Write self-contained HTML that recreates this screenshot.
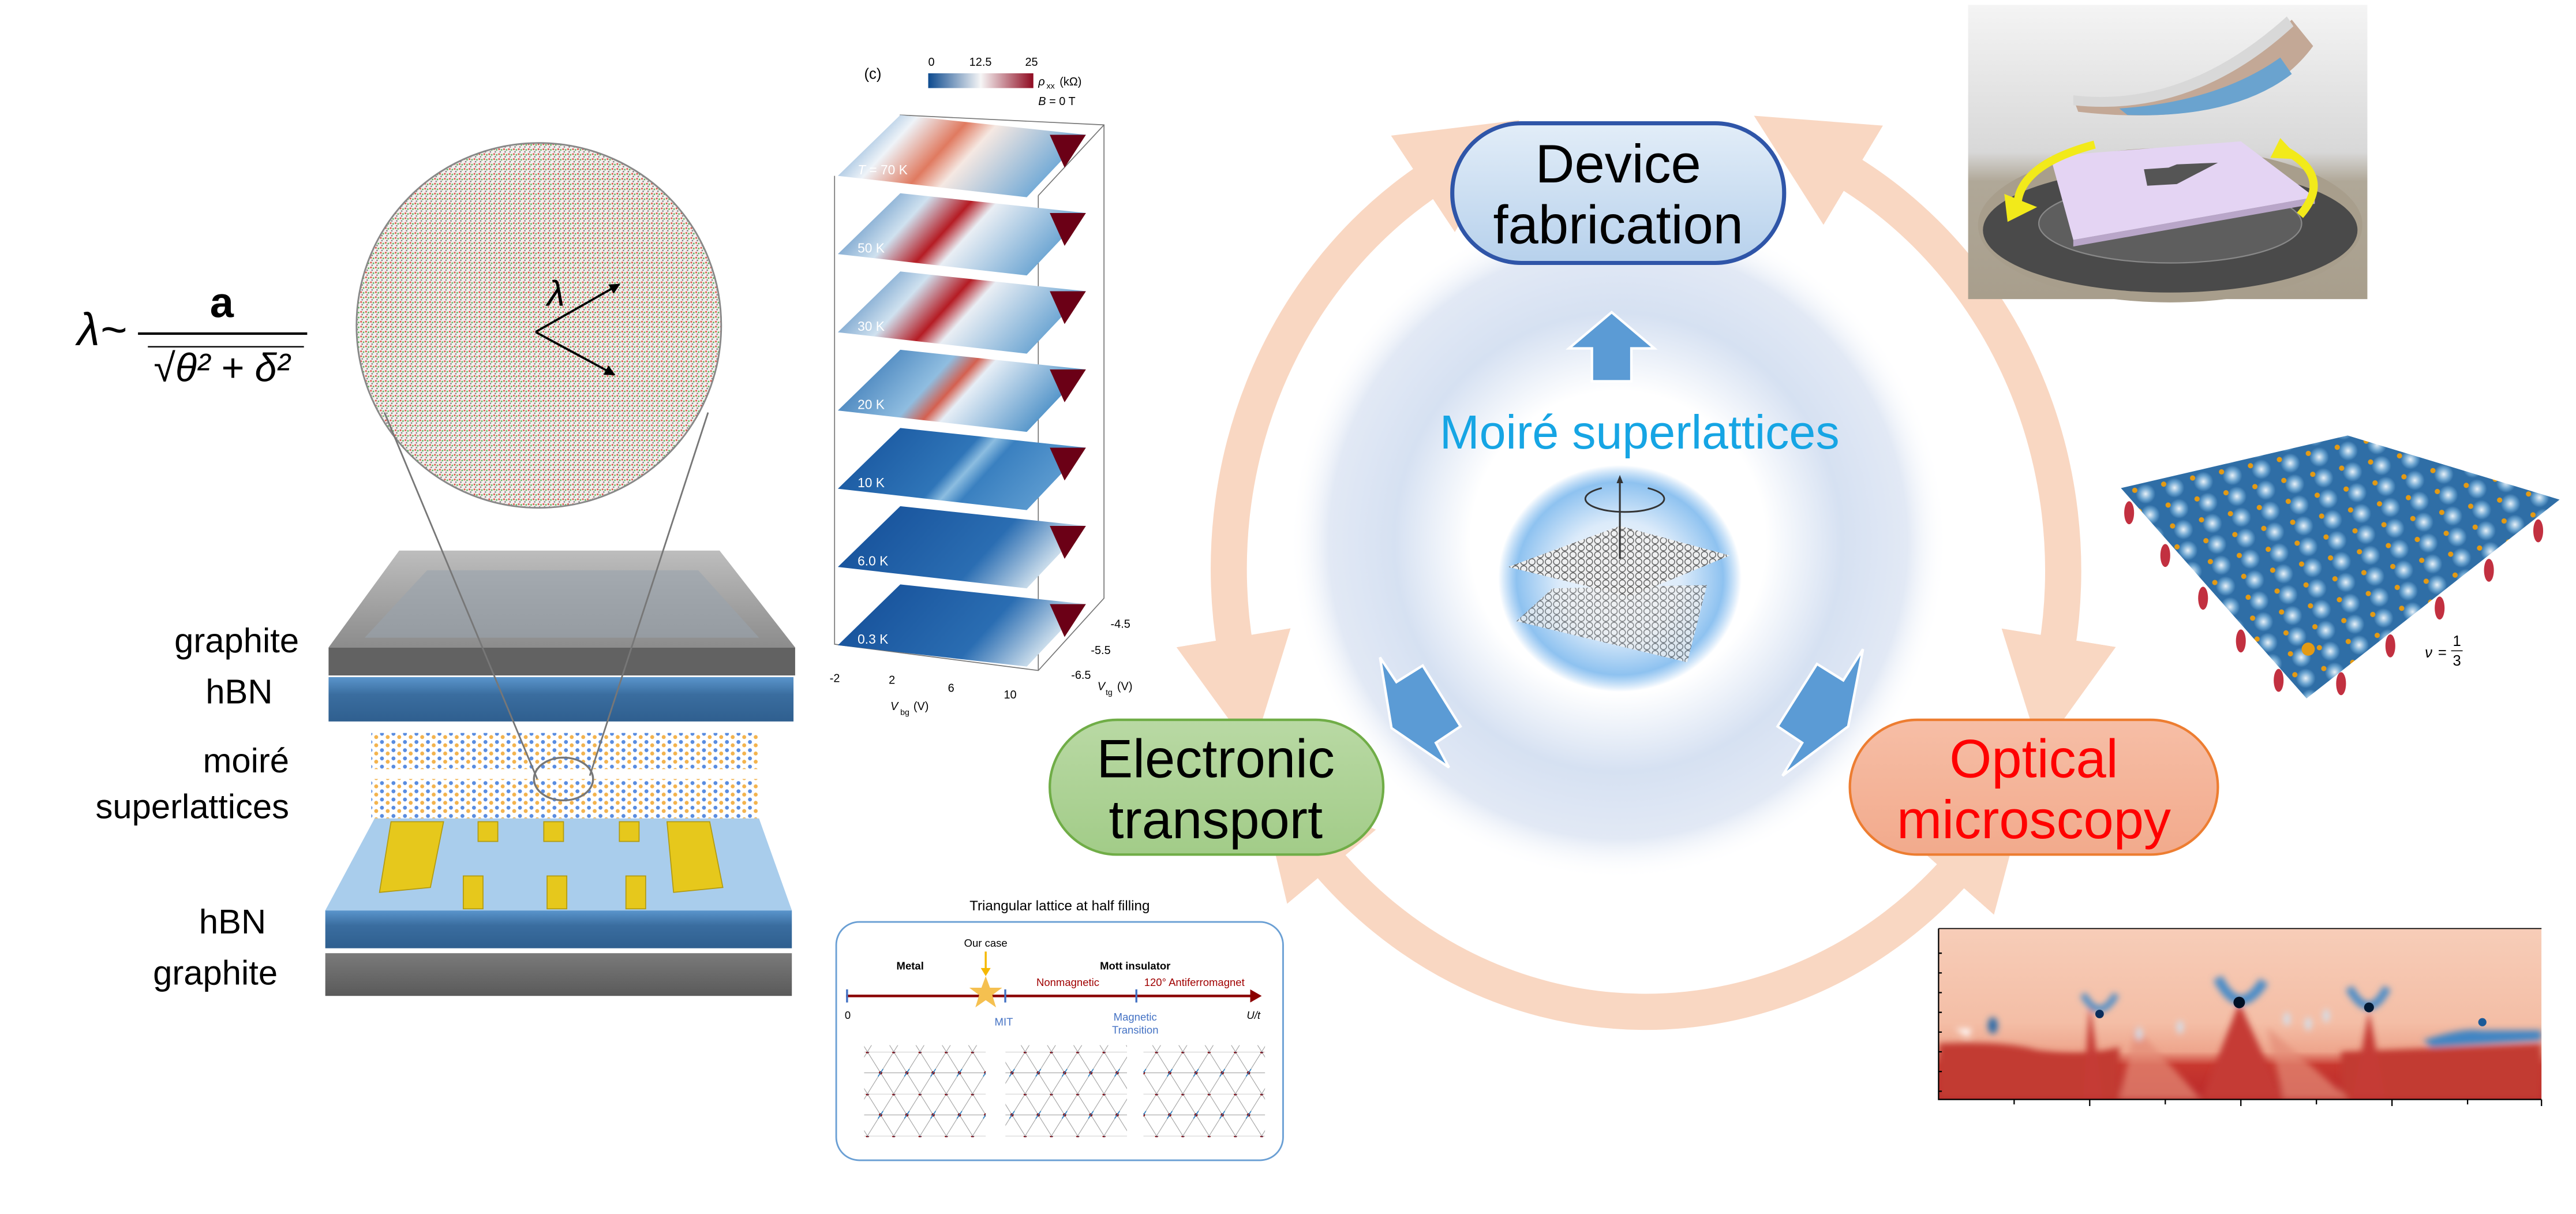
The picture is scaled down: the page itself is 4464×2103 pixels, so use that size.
<!DOCTYPE html>
<html><head><meta charset="utf-8"><style>
html,body{margin:0;padding:0;background:#fff;overflow:hidden}
svg{display:block}
text{font-family:"Liberation Sans",sans-serif}
</style></head><body>
<svg width="4464" height="2103" viewBox="0 0 1568 738.7" preserveAspectRatio="none" xmlns="http://www.w3.org/2000/svg">
<defs>
<filter id="blur2"><feGaussianBlur stdDeviation="2"/></filter>
<filter id="blur1"><feGaussianBlur stdDeviation="0.8"/></filter>
<pattern id="dots" width="3" height="3" patternUnits="userSpaceOnUse">
<rect width="3" height="3" fill="#f4eeee"/>
<circle cx="0.8" cy="0.8" r="0.55" fill="#d9584a"/>
<circle cx="2.3" cy="1.2" r="0.5" fill="#5cb65a"/>
<circle cx="1.5" cy="2.4" r="0.45" fill="#777"/>
</pattern>
<pattern id="atoms" width="7" height="5" patternUnits="userSpaceOnUse">
<circle cx="1.5" cy="1.5" r="1.2" fill="#2f6fd8"/>
<circle cx="5" cy="3.5" r="1.2" fill="#f0a020"/>
</pattern>
<pattern id="tri" x="0" y="0" width="16" height="25.6" patternUnits="userSpaceOnUse">
<path d="M0 0H16M0 12.8H16M0 0L8 12.8L16 0M0 25.6L8 12.8L16 25.6" stroke="#999" stroke-width="0.35" fill="none"/>
<circle cx="0" cy="0" r="1" fill="#8b0000"/><circle cx="16" cy="0" r="1" fill="#8b0000"/>
<circle cx="8" cy="12.8" r="1" fill="#8b0000"/>
<path d="M6.5 15 L9.5 10.5" stroke="#2a7fc0" stroke-width="0.6"/>
<path d="M-1 2 L1.5 -2" stroke="#2a7fc0" stroke-width="0.6"/>
</pattern>
<pattern id="bumps" width="18" height="13" patternUnits="userSpaceOnUse" patternTransform="rotate(-12)">
<rect width="18" height="13" fill="#2f6ea6"/>
<circle cx="9" cy="6.5" r="6" fill="url(#bumpg)"/>
<circle cx="3" cy="3" r="1.6" fill="#e39a14"/>
</pattern>
<radialGradient id="bumpg"><stop offset="0" stop-color="#e8f1f8"/><stop offset="0.6" stop-color="#6aa3cf"/><stop offset="1" stop-color="#2f6ea6"/></radialGradient>
<radialGradient id="glow" cx="0.5" cy="0.5" r="0.5">
<stop offset="0" stop-color="#ffffff"/>
<stop offset="0.45" stop-color="#ffffff"/>
<stop offset="0.68" stop-color="#d6e1f2"/>
<stop offset="0.88" stop-color="#e2e9f5"/>
<stop offset="1" stop-color="#ffffff" stop-opacity="0"/>
</radialGradient>
<radialGradient id="sph" cx="0.5" cy="0.5" r="0.5">
<stop offset="0" stop-color="#f4f8fd"/>
<stop offset="0.5" stop-color="#dcebfa"/>
<stop offset="0.85" stop-color="#8ec2f0"/>
<stop offset="1" stop-color="#7ab6ee" stop-opacity="0"/>
</radialGradient>
<pattern id="hex" width="5" height="4.3" patternUnits="userSpaceOnUse">
<rect width="5" height="4.3" fill="#f0f0f0"/>
<circle cx="2.5" cy="2.15" r="1.9" fill="none" stroke="#555" stroke-width="0.5"/>
</pattern>
<linearGradient id="devg" x1="0" y1="0" x2="0" y2="1"><stop offset="0" stop-color="#e2edf8"/><stop offset="1" stop-color="#b7d1ec"/></linearGradient>
<linearGradient id="elg" x1="0" y1="0" x2="0" y2="1"><stop offset="0" stop-color="#b9d9a4"/><stop offset="1" stop-color="#a2cc88"/></linearGradient>
<linearGradient id="opg" x1="0" y1="0" x2="0" y2="1"><stop offset="0" stop-color="#f6bea6"/><stop offset="1" stop-color="#f2aa8c"/></linearGradient>
<linearGradient id="cbar" x1="0" x2="1"><stop offset="0" stop-color="#0d4a8f"/><stop offset="0.5" stop-color="#f6f6f6"/><stop offset="1" stop-color="#8f0a20"/></linearGradient>
<linearGradient id="slHot" x1="0" y1="0" x2="1" y2="0.3"><stop offset="0" stop-color="#3d80c0"/><stop offset="0.3" stop-color="#eef3f8"/><stop offset="0.5" stop-color="#e07a60"/><stop offset="0.62" stop-color="#f5e8e2"/><stop offset="1" stop-color="#6ea8d6"/></linearGradient>
<linearGradient id="slWarm" x1="0" y1="0" x2="1" y2="0.3"><stop offset="0" stop-color="#2a6cb0"/><stop offset="0.35" stop-color="#cfe1ef"/><stop offset="0.52" stop-color="#b51c24"/><stop offset="0.62" stop-color="#e9eef4"/><stop offset="1" stop-color="#6aa4d2"/></linearGradient>
<linearGradient id="slMid" x1="0" y1="0" x2="1" y2="0.3"><stop offset="0" stop-color="#2366ab"/><stop offset="0.45" stop-color="#8fbde0"/><stop offset="0.55" stop-color="#d46050"/><stop offset="0.62" stop-color="#e6eef6"/><stop offset="1" stop-color="#4f92c8"/></linearGradient>
<linearGradient id="slCold" x1="0" y1="0" x2="1" y2="0.3"><stop offset="0" stop-color="#14509a"/><stop offset="0.55" stop-color="#2f75b8"/><stop offset="0.62" stop-color="#8cbde0"/><stop offset="0.7" stop-color="#3a80c0"/><stop offset="1" stop-color="#5c9bd0"/></linearGradient>
<linearGradient id="slVCold" x1="0" y1="0" x2="1" y2="0.3"><stop offset="0" stop-color="#134c96"/><stop offset="0.7" stop-color="#2a6db2"/><stop offset="1" stop-color="#d8e6f0"/></linearGradient>
<linearGradient id="hm" x1="0" y1="0" x2="0" y2="1"><stop offset="0" stop-color="#f7cdb8"/><stop offset="0.55" stop-color="#f4bea6"/><stop offset="0.72" stop-color="#eea58c"/><stop offset="0.8" stop-color="#c8382f"/><stop offset="1" stop-color="#b9282a"/></linearGradient>
<linearGradient id="photo" x1="0" y1="0" x2="0" y2="1"><stop offset="0" stop-color="#f4f4f4"/><stop offset="0.5" stop-color="#d8d8d8"/><stop offset="0.6" stop-color="#b0a898"/><stop offset="1" stop-color="#a89e8c"/></linearGradient>
<linearGradient id="hbn" x1="0" y1="0" x2="0" y2="1"><stop offset="0" stop-color="#5a95cc"/><stop offset="0.4" stop-color="#3a6d9f"/><stop offset="1" stop-color="#2f5f8f"/></linearGradient>
<linearGradient id="gr" x1="0" y1="0" x2="0" y2="1"><stop offset="0" stop-color="#7a7a7a"/><stop offset="1" stop-color="#5a5a5a"/></linearGradient>
<linearGradient id="grtop" x1="0" y1="0" x2="0" y2="1"><stop offset="0" stop-color="#bdbdbd"/><stop offset="1" stop-color="#8c8c8c"/></linearGradient>
<marker id="ah" viewBox="0 0 10 10" refX="1" refY="5" markerWidth="3.2" markerHeight="3.2" orient="auto-start-reverse" markerUnits="strokeWidth">
<path d="M0 0 L10 5 L0 10 Z" fill="#f9d7c2"/>
</marker>
<marker id="bh" viewBox="0 0 10 10" refX="9" refY="5" markerWidth="5" markerHeight="5" orient="auto">
<path d="M0 0 L10 5 L0 10 Z" fill="#000"/>
</marker>
</defs>

<!-- glow -->
<ellipse cx="985" cy="330" rx="200" ry="205" fill="url(#glow)"/>

<!-- ring arrows -->
<g fill="none" stroke="#f9d7c2" stroke-width="22">
<path d="M872 108 A262 280 0 0 0 752 395" marker-start="url(#ah)" marker-end="url(#ah)"/>
<path d="M1122 103 A262 280 0 0 1 1252 395" marker-start="url(#ah)" marker-end="url(#ah)"/>
<path d="M806 522 A262 280 0 0 0 1192 528" marker-start="url(#ah)" marker-end="url(#ah)"/>
</g>

<!-- sphere -->
<ellipse cx="986" cy="352" rx="74" ry="69" fill="url(#sph)"/>
<polygon points="923,378 945,358 1039,356 1027,403" fill="url(#hex)" opacity="0.75"/>
<polygon points="918,345 986,320 1053,338 992,363" fill="url(#hex)" opacity="0.95"/>
<line x1="986" y1="291" x2="986" y2="340" stroke="#333" stroke-width="1.1"/>
<polygon points="984,294 988,294 986,289" fill="#333"/>
<path d="M975 297 A24 8 0 1 0 1003 297" fill="none" stroke="#333" stroke-width="1"/>

<!-- blue arrows -->
<g fill="#5b9bd5" stroke="#fff" stroke-width="1.5">
<polygon transform="translate(981,212) rotate(-90)" points="-20,-12 0,-12 0,-26 22,0 0,26 0,12 -20,12"/>
<polygon points="840,400 850,415 866,405 889,442 874,452 882,467 847,443"/>
<polygon points="1134,395 1122,414 1106,404 1082,442 1097,452 1085,472 1125,442"/>
</g>

<text x="998" y="273" font-size="29" fill="#16a5e4" text-anchor="middle">Moiré superlattices</text>

<!-- boxes -->
<rect x="884" y="75" width="202" height="85" rx="42" fill="url(#devg)" stroke="#2f55a8" stroke-width="2.5"/>
<text x="985" y="111" font-size="33" text-anchor="middle">Device</text>
<text x="985" y="148" font-size="33" text-anchor="middle">fabrication</text>
<rect x="639" y="438" width="203" height="82" rx="41" fill="url(#elg)" stroke="#70ad47" stroke-width="1.5"/>
<text x="740" y="473" font-size="33" text-anchor="middle">Electronic</text>
<text x="740" y="510" font-size="33" text-anchor="middle">transport</text>
<rect x="1126" y="438" width="224" height="82" rx="41" fill="url(#opg)" stroke="#ed7d31" stroke-width="1.5"/>
<text x="1238" y="473" font-size="33" text-anchor="middle" fill="#ff0000">Optical</text>
<text x="1238" y="510" font-size="33" text-anchor="middle" fill="#ff0000">microscopy</text>

<!-- LEFT PANEL -->
<text x="47" y="210" font-size="28" font-family="Liberation Serif,serif" font-style="italic">λ~</text>
<line x1="84" y1="203" x2="187" y2="203" stroke="#000" stroke-width="1.5"/>
<text x="135" y="193" font-size="26" font-family="Liberation Serif,serif" font-weight="bold" text-anchor="middle">a</text>
<text x="135" y="232" font-size="24" font-family="Liberation Serif,serif" font-style="italic" text-anchor="middle">√θ² + δ²</text>
<line x1="90" y1="211" x2="185" y2="211" stroke="#000" stroke-width="0.8"/>

<circle cx="328" cy="198" r="111" fill="url(#dots)" stroke="#888" stroke-width="1"/>
<line x1="326" y1="202" x2="377" y2="173" stroke="#000" stroke-width="1.3" marker-end="url(#bh)"/>
<line x1="326" y1="202" x2="374" y2="228" stroke="#000" stroke-width="1.3" marker-end="url(#bh)"/>
<text x="333" y="186" font-size="22" font-family="Liberation Serif,serif" font-style="italic">λ</text>

<!-- slabs -->
<polygon points="243,335 438,335 484,394 200,394" fill="url(#grtop)"/>
<polygon points="260,347 425,347 462,388 222,388" fill="#9aa4ae" opacity="0.6"/>
<rect x="200" y="394" width="284" height="17" fill="#626262"/>
<rect x="200" y="412" width="283" height="27" fill="url(#hbn)"/>
<rect x="226" y="446" width="236" height="22" fill="url(#atoms)" opacity="0.8"/>
<rect x="226" y="474" width="236" height="24" fill="url(#atoms)" opacity="0.8"/>
<polygon points="228,498 462,498 482,554 198,554" fill="#a9cdec"/>
<rect x="198" y="554" width="284" height="23" fill="url(#hbn)"/>
<rect x="198" y="580" width="284" height="26" fill="url(#gr)"/>
<g fill="#e6c81c" stroke="#b19a10" stroke-width="0.6">
<polygon points="238,500 270,500 262,540 231,543"/>
<polygon points="406,500 432,500 440,540 410,543"/>
<rect x="291" y="500" width="12" height="12"/><rect x="331" y="500" width="12" height="12"/><rect x="377" y="500" width="12" height="12"/>
<rect x="282" y="533" width="12" height="20"/><rect x="333" y="533" width="12" height="20"/><rect x="381" y="533" width="12" height="20"/>
</g>
<line x1="234" y1="251" x2="327" y2="474" stroke="#777" stroke-width="1"/>
<line x1="431" y1="251" x2="359" y2="472" stroke="#777" stroke-width="1"/>
<ellipse cx="343" cy="474" rx="18" ry="13" fill="none" stroke="#777" stroke-width="1.2"/>

<g font-size="21" text-anchor="end" font-family="DejaVu Sans,sans-serif">
<text x="182" y="397">graphite</text>
<text x="166" y="428">hBN</text>
<text x="176" y="470">moiré</text>
<text x="176" y="498">superlattices</text>
<text x="162" y="568">hBN</text>
<text x="169" y="599">graphite</text>
</g>

<!-- HEATMAP STACK -->
<text x="526" y="48" font-size="9">(c)</text>
<rect x="565" y="44.6" width="64" height="9" fill="url(#cbar)"/>
<g font-size="7"><text x="565" y="40">0</text><text x="590" y="40">12.5</text><text x="624" y="40">25</text>
<text x="632" y="52" font-style="italic">ρ</text><text x="637" y="54" font-size="5">xx</text><text x="645" y="52">(kΩ)</text>
<text x="632" y="64"><tspan font-style="italic">B</tspan> = 0 T</text></g>
<g stroke="#777" stroke-width="0.6" fill="none">
<path d="M508 107 V392 L632 408 L672 364 V76 L548 70 V100"/>
<line x1="632" y1="119" x2="632" y2="408"/>
<line x1="632" y1="119" x2="672" y2="76"/>
</g>
<g id="slices">
<g><polygon points="510,107 548,70 661,82 625,120" fill="url(#slHot)"/><polygon points="639,82 661,82 648,102" fill="#6b0016"/><text x="522" y="106" font-size="8" fill="#fff"><tspan font-style="italic">T</tspan> = 70 K</text></g>
<g transform="translate(0,47.6)"><polygon points="510,107 548,70 661,82 625,120" fill="url(#slWarm)"/><polygon points="639,82 661,82 648,102" fill="#6b0016"/><text x="522" y="106" font-size="8" fill="#fff">50 K</text></g>
<g transform="translate(0,95.2)"><polygon points="510,107 548,70 661,82 625,120" fill="url(#slWarm)"/><polygon points="639,82 661,82 648,102" fill="#6b0016"/><text x="522" y="106" font-size="8" fill="#fff">30 K</text></g>
<g transform="translate(0,142.8)"><polygon points="510,107 548,70 661,82 625,120" fill="url(#slMid)"/><polygon points="639,82 661,82 648,102" fill="#6b0016"/><text x="522" y="106" font-size="8" fill="#fff">20 K</text></g>
<g transform="translate(0,190.4)"><polygon points="510,107 548,70 661,82 625,120" fill="url(#slCold)"/><polygon points="639,82 661,82 648,102" fill="#6b0016"/><text x="522" y="106" font-size="8" fill="#fff">10 K</text></g>
<g transform="translate(0,238)"><polygon points="510,107 548,70 661,82 625,120" fill="url(#slVCold)"/><polygon points="639,82 661,82 648,102" fill="#6b0016"/><text x="522" y="106" font-size="8" fill="#fff">6.0 K</text></g>
<g transform="translate(0,285.6)"><polygon points="510,107 548,70 661,82 625,120" fill="url(#slVCold)"/><polygon points="639,82 661,82 648,102" fill="#6b0016"/><text x="522" y="106" font-size="8" fill="#fff">0.3 K</text></g>
</g>
<g font-size="7"><text x="505" y="415">-2</text><text x="541" y="416">2</text><text x="577" y="421">6</text><text x="611" y="425">10</text>
<text x="676" y="382">-4.5</text><text x="664" y="398">-5.5</text><text x="652" y="413">-6.5</text>
<text x="542" y="432" font-style="italic">V</text><text x="548" y="435" font-size="5">bg</text><text x="556" y="432">(V)</text>
<text x="668" y="420" font-style="italic">V</text><text x="673" y="423" font-size="5">tg</text><text x="680" y="420">(V)</text></g>

<!-- BOTTOM MIDDLE PANEL -->
<text x="645" y="554" font-size="8.5" text-anchor="middle">Triangular lattice at half filling</text>
<rect x="509" y="561" width="272" height="145" rx="14" fill="#fff" stroke="#6a9fd4" stroke-width="1"/>
<line x1="515" y1="606" x2="763" y2="606" stroke="#8b0000" stroke-width="1.6"/>
<polygon points="761,602 768,606 761,610" fill="#8b0000"/>
<g stroke="#4472c4" stroke-width="1.2"><line x1="515.6" y1="602" x2="515.6" y2="610"/><line x1="611.9" y1="602" x2="611.9" y2="610"/><line x1="691.7" y1="602" x2="691.7" y2="610"/></g>
<polygon points="600,594 602.6,601 610,601 604,605.5 606.3,613 600,608.6 593.7,613 596,605.5 590,601 597.4,601" fill="#f5c050"/>
<line x1="600" y1="579" x2="600" y2="590" stroke="#f5b800" stroke-width="1.2"/><polygon points="597,589 603,589 600,594" fill="#f5b800"/>
<g font-size="6.5">
<text x="600" y="576" text-anchor="middle">Our case</text>
<text x="554" y="590" text-anchor="middle" font-weight="bold">Metal</text>
<text x="691" y="590" text-anchor="middle" font-weight="bold">Mott insulator</text>
<text x="650" y="600" text-anchor="middle" fill="#a00000">Nonmagnetic</text>
<text x="727" y="600" text-anchor="middle" fill="#a00000">120° Antiferromagnet</text>
<text x="516" y="620" text-anchor="middle">0</text>
<text x="611" y="624" text-anchor="middle" fill="#4472c4">MIT</text>
<text x="691" y="621" text-anchor="middle" fill="#4472c4">Magnetic</text>
<text x="691" y="629" text-anchor="middle" fill="#4472c4">Transition</text>
<text x="763" y="620" text-anchor="middle" font-style="italic">U/t</text>
</g>
<rect x="526" y="636" width="74" height="56" fill="url(#tri)"/>
<rect x="612" y="636" width="74" height="56" fill="url(#tri)"/>
<rect x="696" y="636" width="74" height="56" fill="url(#tri)"/>

<!-- TOP RIGHT PHOTO -->
<rect x="1198" y="3" width="243" height="179" fill="url(#photo)"/>
<ellipse cx="1321" cy="137" rx="117" ry="47" fill="#a89e8c"/>
<ellipse cx="1321" cy="140" rx="114" ry="38" fill="#4a4a4a"/>
<ellipse cx="1321" cy="136" rx="80" ry="24" fill="#5e5e5e" stroke="#888" stroke-width="0.8"/>
<polygon points="1262,146 1409,120 1409,124 1262,150" fill="#b9a6c9"/>
<polygon points="1248,95 1364,86 1409,120 1262,146" fill="#e4d4f3"/>
<polygon points="1305,103 1320,102 1325,100 1350,99 1325,112 1307,113" fill="#555"/>
<path d="M1262 60 Q1330 70 1395 12 L1408 28 Q1370 80 1265 68 Z" fill="#c3a896"/>
<path d="M1262 58 Q1330 66 1392 10 L1396 16 Q1335 72 1262 64 Z" fill="#d8d8d8"/>
<path d="M1290 66 Q1350 62 1388 35 L1395 45 Q1360 72 1295 70 Z" fill="#6aa3cf"/>
<path d="M1275 88 Q1230 100 1228 124" fill="none" stroke="#f2ea1a" stroke-width="5"/>
<polygon points="1220,118 1240,126 1222,135" fill="#f2ea1a"/>
<path d="M1400 131 Q1420 108 1392 92" fill="none" stroke="#f2ea1a" stroke-width="5"/>
<polygon points="1388,84 1400,97 1382,96" fill="#f2ea1a"/>

<!-- SURFACE -->
<g fill="#c23040">
<ellipse cx="1296" cy="312" rx="3" ry="7"/><ellipse cx="1318" cy="338" rx="3" ry="7"/><ellipse cx="1341" cy="364" rx="3" ry="7"/><ellipse cx="1364" cy="390" rx="3" ry="7"/><ellipse cx="1387" cy="414" rx="3" ry="7"/>
<ellipse cx="1425" cy="416" rx="3" ry="7"/><ellipse cx="1455" cy="393" rx="3" ry="7"/><ellipse cx="1485" cy="370" rx="3" ry="7"/><ellipse cx="1515" cy="347" rx="3" ry="7"/><ellipse cx="1545" cy="323" rx="3" ry="7"/>
</g>
<polygon points="1291,297 1429,265 1558,304 1404,425" fill="url(#bumps)"/>
<circle cx="1405" cy="395" r="4" fill="#e39a14"/>
<g font-family="Liberation Serif,serif" font-size="9"><text x="1476" y="400" font-style="italic">ν</text><text x="1484" y="400">=</text><text x="1493" y="393">1</text><line x1="1492" y1="396" x2="1499" y2="396" stroke="#000" stroke-width="0.5"/><text x="1493" y="405">3</text></g>

<!-- BOTTOM RIGHT HEATMAP -->
<svg x="1180" y="565" width="367" height="104" viewBox="0 0 367 104" overflow="hidden">
<rect width="367" height="104" fill="url(#hm)"/>
<g filter="url(#blur2)">
<path d="M0 70 Q40 68 60 74 Q90 78 110 72 L110 104 L0 104 Z" fill="#c23a32"/>
<path d="M245 75 L367 70 L367 104 L245 104 Z" fill="#c23a32"/>
<path d="M92 45 L88 104 L100 104 Z" fill="#c53a35"/>
<path d="M183 45 L160 104 L210 104 Z" fill="#c53a35"/>
<path d="M262 50 L252 104 L272 104 Z" fill="#c53a35"/>
<path d="M120 60 L110 104 L160 104 Z" fill="#e48c78" opacity="0.7"/>
<path d="M200 60 L210 104 L250 104 Z" fill="#e48c78" opacity="0.7"/>
<path d="M10 61 L20 61 L18 66 Z" fill="#fff"/>
<ellipse cx="33" cy="59" rx="3" ry="5" fill="#2a6aa8"/>
<path d="M88 40 Q98 58 108 40" stroke="#4a8cc8" stroke-width="4" fill="none"/>
<path d="M170 30 Q183 56 198 32" stroke="#4a8cc8" stroke-width="6" fill="none"/>
<path d="M250 36 Q262 58 273 36" stroke="#4a8cc8" stroke-width="5" fill="none"/>
<path d="M295 68 Q320 60 330 62 L367 62 L367 68 L300 72 Z" fill="#3f85c4"/>
<ellipse cx="122" cy="64" rx="1.8" ry="4" fill="#cfe2f2"/><ellipse cx="147" cy="60" rx="1.8" ry="4" fill="#cfe2f2"/>
<ellipse cx="212" cy="55" rx="1.8" ry="4" fill="#cfe2f2"/><ellipse cx="225" cy="58" rx="1.8" ry="4" fill="#cfe2f2"/><ellipse cx="236" cy="53" rx="1.8" ry="4" fill="#cfe2f2"/>
</g>
<circle cx="98" cy="52" r="2.6" fill="#0a2d5c"/>
<circle cx="183" cy="45" r="3.5" fill="#001025"/>
<circle cx="262" cy="48" r="3" fill="#001a35"/>
<circle cx="331" cy="57" r="2.5" fill="#1a5a98"/>
</svg>
<g stroke="#000" stroke-width="0.8" fill="none">
<path d="M1180 565 V669 H1547"/>
<line x1="1180" y1="565" x2="1547" y2="565" stroke-width="0.6"/>
<path d="M1180 580h2M1180 592h2M1180 604h2M1180 616h2M1180 628h2M1180 640h2M1180 652h2M1180 664h2"/>
<path d="M1226 669v3M1272 669v4M1318 669v3M1364 669v4M1410 669v3M1456 669v4M1502 669v3M1547 669v4"/>
</g>
</svg>
</body></html>
